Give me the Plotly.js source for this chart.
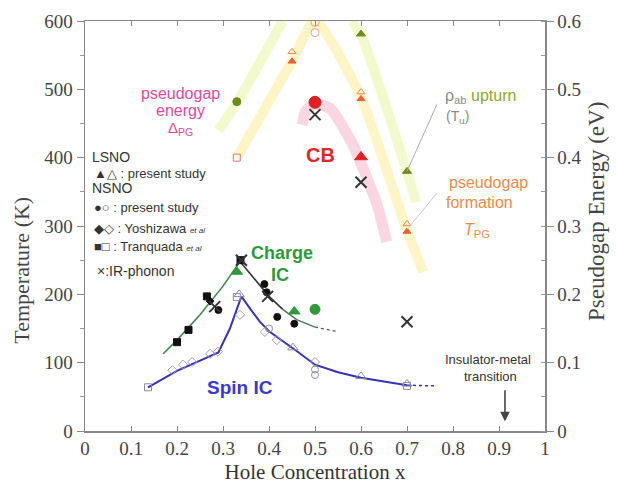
<!DOCTYPE html>
<html>
<head>
<meta charset="utf-8">
<script src="https://cdn.plot.ly/plotly-3.0.1.min.js"></script>
<style>html,body{margin:0;padding:0;background:#fff;}#chart{width:617px;height:487px;}</style>
</head>
<body>
<div id="chart"></div>
<script>
// ---------- data (x = hole concentration, T = temperature in K) ----------
const xTicks = [0,0.1,0.2,0.3,0.4,0.5,0.6,0.7,0.8,0.9,1];
const xTickText = ["0","0.1","0.2","0.3","0.4","0.5","0.6","0.7","0.8","0.9","1"];
const y2Ticks = [0,0.1,0.2,0.3,0.4,0.5,0.6];
const y2TickText = ["0","0.1","0.2","0.3","0.4","0.5","0.6"];

// broad guide bands
const upturnBandX1 = [0.29,0.33,0.43];        const upturnBandT1 = [440,480,600];
const upturnBandX2 = [0.58,0.6,0.7,0.72];     const upturnBandT2 = [600,580,380,335];
const pgBandX = [0.33,0.45,0.5,0.6,0.7,0.735]; const pgBandT = [400,541,600,488,293,233];
const cbBandX = [0.472,0.48,0.5,0.533,0.583,0.604,0.635,0.656];
const cbBandT = [448,468,478,472,418,385,331,277];

// charge IC guide line
const chargeUpX = [0.17,0.2,0.25,0.3,0.337];  const chargeUpT = [113,133,170,212,248];
const chargeDownX = [0.337,0.37,0.4,0.43];    const chargeDownT = [248,222,197,178];
const chargeTailX = [0.43,0.46,0.5];          const chargeTailT = [178,163,152];
const chargeDotX = [0.5,0.545]; const chargeDotT = [152,146];

// spin IC guide line
const spinLineX = [0.137,0.2,0.25,0.29,0.315,0.34,0.36,0.38,0.4,0.43,0.46,0.5,0.55,0.6,0.65,0.7];
const spinLineT = [64,88,103,115,150,197,178,160,146,132,117,97,86,78,72,67];
const spinDotX = [0.7,0.765]; const spinDotT = [67,66];

// charge order points
const lsnoChargeX = [0.33,0.455];            const lsnoChargeT = [233,175];
const nsnoChargeGreenX = [0.5];              const nsnoChargeGreenT = [178];
const tranqChargeX = [0.2,0.225,0.265,0.338]; const tranqChargeT = [130,148,197,250];
const nsnoChargeX = [0.29,0.39,0.418,0.455,0.395]; const nsnoChargeT = [177,215,167,157,203];
const yoshChargeX = [0.272];                 const yoshChargeT = [190];
const irX = [0.282,0.34,0.397,0.5,0.6,0.7];  const irT = [182,250,197,463,364,160];

// spin order points
const lsnoSpinX = [0.335,0.452,0.6,0.7];     const lsnoSpinT = [200,122,80,69];
const nsnoSpinX = [0.5,0.5,0.4];             const nsnoSpinT = [90,82,150];
const yoshSpinX = [0.19,0.213,0.233,0.272,0.289,0.337,0.391,0.417,0.5];
const yoshSpinT = [89,97,101,113,116,170,145,133,101];
const tranqSpinX = [0.137,0.7,0.33];         const tranqSpinT = [64,66,196];

// pseudogap / transport points
const deltaPgX = [0.33];  const deltaPgT = [400];
const tpgFilledX = [0.45,0.6,0.7]; const tpgFilledT = [541,486,292];
const tpgOpenX = [0.45,0.6,0.7];   const tpgOpenT = [555,496,303];
const tpgCircX = [0.5,0.5];        const tpgCircT = [598,583];
const tuTriX = [0.6,0.7];          const tuTriT = [581,380];
const tuCircX = [0.33];            const tuCircT = [482];
const cbCircX = [0.5];             const cbCircT = [481];
const cbTriX = [0.6];              const cbTriT = [401];

// ---------- traces ----------
const band = (x,y,color,w) => ({x, y, type:'scatter', mode:'lines', line:{color, width:w, shape:'spline', smoothing:0.6}, hoverinfo:'skip'});
const pts = (x,y,symbol,color,size,lineColor) => ({x, y, type:'scatter', mode:'markers',
  marker:{symbol, color, size, line:{color: lineColor||color, width:1}}, hoverinfo:'skip'});
const ln = (x,y,color,w,dash) => ({x, y, type:'scatter', mode:'lines', line:{color, width:w, dash:dash||'solid'}, hoverinfo:'skip'});

const traces = [
  band(upturnBandX1, upturnBandT1, 'rgba(212,240,90,0.3)', 10),
  band(upturnBandX2, upturnBandT2, 'rgba(212,240,90,0.3)', 10),
  band(pgBandX, pgBandT, 'rgba(252,225,90,0.34)', 10),
  band(cbBandX, cbBandT, 'rgba(236,120,160,0.3)', 11),
  ln(chargeUpX, chargeUpT, '#3d8a4a', 1.6),
  ln(chargeDownX, chargeDownT, '#333', 1.6),
  ln(chargeTailX, chargeTailT, '#4a7a52', 1.5),
  ln(chargeDotX, chargeDotT, '#556', 1.3, 'dot'),
  ln(spinLineX, spinLineT, '#3434b4', 2),
  ln(spinDotX, spinDotT, '#3434b4', 1.5, 'dot'),
  // spin points (open)
  pts(yoshSpinX, yoshSpinT, 'diamond-open', '#9a9ab8', 7),
  pts(tranqSpinX, tranqSpinT, 'square-open', '#8a8aa8', 7),
  pts(nsnoSpinX, nsnoSpinT, 'circle-open', '#8a8aa8', 7),
  pts(lsnoSpinX, lsnoSpinT, 'triangle-up-open', '#8a8aa8', 9),
  // charge points
  pts(tranqChargeX, tranqChargeT, 'square', '#111', 7),
  pts(nsnoChargeX, nsnoChargeT, 'circle', '#111', 7),
  pts(yoshChargeX, yoshChargeT, 'diamond', '#111', 6),
  pts(lsnoChargeX, lsnoChargeT, 'triangle-up', '#2e9a3c', 10),
  pts(nsnoChargeGreenX, nsnoChargeGreenT, 'circle', '#2e9a3c', 10),
  // pseudogap points
  pts(deltaPgX, deltaPgT, 'square-open', '#e8708a', 7),
  pts(tpgOpenX, tpgOpenT, 'triangle-up-open', '#f08a50', 7),
  pts(tpgFilledX, tpgFilledT, 'triangle-up', '#e8603a', 7),
  pts(tpgCircX, tpgCircT, 'circle-open', '#f0a080', 8),
  pts(tuTriX, tuTriT, 'triangle-up', '#6e8c1e', 8),
  pts(tuCircX, tuCircT, 'circle', '#6e8c1e', 8),
  pts(cbCircX, cbCircT, 'circle', '#e02020', 12),
  pts(cbTriX, cbTriT, 'triangle-up', '#e02020', 11),
  pts(irX, irT, 'x-thin-open', '#333', 11),
  {x:[0], y:[0], yaxis:'y2', type:'scatter', mode:'markers', marker:{opacity:0}, hoverinfo:'skip'}
];
traces.forEach(t=>{ if(t.mode==='markers' && t.marker.symbol==='x-thin-open'){ t.marker.line = {color:'#333', width:2}; } });

// ---------- annotations ----------
const sans = 'Liberation Sans, Arial, sans-serif';
const serif = 'Liberation Serif, Times New Roman, serif';
const ann = (x,y,text,size,color,opts) => Object.assign({x, y, xref:'x', yref:'y', text, showarrow:false,
  font:{family:sans, size, color}, xanchor:'center', yanchor:'middle'}, opts||{});

const annotations = [
  ann(0.207, 494, 'pseudogap', 16, '#e0489c'),
  ann(0.207, 469, 'energy', 16, '#e0489c'),
  ann(0.207, 443, 'Δ<sub>PG</sub>', 15, '#e0489c'),
  ann(0.011, 401, 'LSNO', 14, '#333', {xanchor:'left'}),
  ann(0.016, 377, '▲△ : present study', 13, '#333', {xanchor:'left'}),
  ann(0.011, 355, 'NSNO', 14, '#333', {xanchor:'left'}),
  ann(0.016, 327, '●○ : present study', 13, '#333', {xanchor:'left'}),
  ann(0.016, 296, '◆◇ : Yoshizawa <span style="font-size:8px"><i>et al</i></span>', 13, '#333', {xanchor:'left'}),
  ann(0.016, 270, '■□ : Tranquada <span style="font-size:8px"><i>et al</i></span>', 13, '#333', {xanchor:'left'}),
  ann(0.022, 234, '×:IR-phonon', 14, '#333', {xanchor:'left'}),
  ann(0.511, 404, '<b>CB</b>', 20, '#e02828'),
  ann(0.428, 260, '<b>Charge</b>', 18, '#2a9a3a'),
  ann(0.424, 229, '<b>IC</b>', 18, '#2a9a3a'),
  ann(0.337, 64, '<b>Spin IC</b>', 19, '#3a3acc'),
  ann(0.859, 489, '<span style="color:#888">ρ<sub>ab</sub></span> upturn', 16, '#8aa82a'),
  ann(0.809, 459, '<span style="color:#888">(T<sub>u</sub>)</span>', 14, '#8aa82a'),
  ann(0.877, 364, 'pseudogap', 16, '#f0884a'),
  ann(0.857, 334, 'formation', 16, '#f0884a'),
  ann(0.852, 294, '<i>T</i><sub>PG</sub>', 16, '#f0884a'),
  ann(0.877, 104, 'Insulator-metal', 13, '#333'),
  ann(0.882, 80, 'transition', 13, '#333'),
  // axis titles
  {xref:'paper', yref:'y', x:-0.137, y:236, text:'Temperature (K)', showarrow:false, textangle:-90,
   font:{family:serif, size:22, color:'#444'}, xanchor:'center', yanchor:'middle'},
  {xref:'paper', yref:'y', x:1.113, y:322, text:'Pseudogap Energy (eV)', showarrow:false, textangle:-90,
   font:{family:serif, size:23, color:'#444'}, xanchor:'center', yanchor:'middle'},
  // arrow for insulator-metal transition
  {x:0.913, y:14, ax:0.913, ay:62, xref:'x', yref:'y', axref:'x', ayref:'y', text:'', showarrow:true,
   arrowhead:2, arrowsize:1.2, arrowwidth:1.6, arrowcolor:'#444'}
];

const shapes = [
  {type:'line', xref:'x', yref:'y', x0:0.7, y0:380, x1:0.765, y1:478, line:{color:'#aaa', width:1}},
  {type:'line', xref:'x', yref:'y', x0:0.7, y0:295, x1:0.765, y1:348, line:{color:'#c8c8e8', width:1}}
];

const layout = {
  width:617, height:487,
  margin:{l:85, r:72, t:21, b:56},
  paper_bgcolor:'#fff', plot_bgcolor:'#fff',
  showlegend:false,
  xaxis:{range:[0,1], tickvals:xTicks, ticktext:xTickText, ticks:'inside', ticklen:5, tickwidth:1,
    tickcolor:'#888', showline:true, linecolor:'#888', linewidth:1.5, mirror:'ticks',
    showgrid:false, zeroline:false, tickfont:{family:serif, size:19, color:'#444'},
    title:{text:'Hole Concentration x', font:{family:serif, size:21, color:'#333'}, standoff:6}},
  yaxis:{range:[0,600], dtick:100, ticks:'outside', ticklen:7, tickcolor:'#888', showline:true,
    linecolor:'#888', linewidth:1.5, showgrid:false, zeroline:false,
    minor:{dtick:50, ticks:'outside', ticklen:4, tickcolor:'#999'},
    tickfont:{family:serif, size:19, color:'#444'}},
  yaxis2:{overlaying:'y', side:'right', range:[0,0.6], tickvals:y2Ticks, ticktext:y2TickText,
    ticks:'outside', ticklen:7, tickcolor:'#888', showline:true, linecolor:'#888', linewidth:1.5,
    showgrid:false, zeroline:false, minor:{dtick:0.05, ticks:'inside', ticklen:4, tickcolor:'#999'},
    tickfont:{family:serif, size:19, color:'#444'}},
  annotations, shapes
};

Plotly.newPlot('chart', traces, layout, {staticPlot:true, displayModeBar:false});
</script>
</body>
</html>
